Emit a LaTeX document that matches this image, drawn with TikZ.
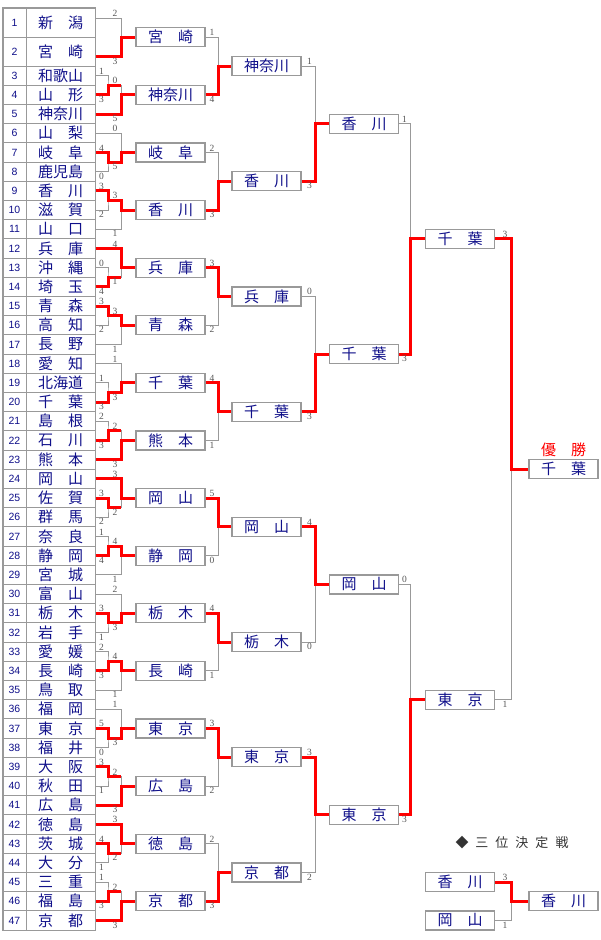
\documentclass[tikz,border=0pt]{standalone}
\usepackage{fontspec}
\setmainfont{Liberation Serif}
\newfontfamily\jpfont{Noto Sans CJK JP}
\newfontfamily\numfont{Liberation Sans}
\usepackage{tikz}
\usetikzlibrary{calc,positioning}
\definecolor{navy}{HTML}{10108A}
\definecolor{linegray}{HTML}{999999}
\definecolor{winred}{HTML}{FF0000}
\definecolor{scoregray}{HTML}{555555}
\definecolor{titlegray}{HTML}{333333}
\tikzset{
  cell/.style={draw=linegray, line width=1pt, fill=white, minimum height=19.2pt, inner sep=0pt, text=navy},
  numcell/.style={cell, minimum width=23pt, font=\numfont\fontsize{10.5}{10.5}\selectfont},
  namecell/.style={cell, minimum width=69pt, font=\jpfont\fontsize{15}{15}\selectfont},
  teambox/.style={draw=linegray, line width=1.2pt, fill=white, minimum width=69pt, minimum height=19pt,
    inner sep=0pt, text=navy, font=\jpfont\fontsize{15}{15}\selectfont},
  wire/.style={draw=linegray, line width=1pt},
  win/.style={draw=winred, line width=3pt},
  score/.style={font=\fontsize{9.5}{9.5}\selectfont, text=scoregray, inner sep=1.2pt},
  champlabel/.style={text=winred, inner sep=1pt, font=\jpfont\fontsize{15}{15}\selectfont},
  titlelabel/.style={text=titlegray, inner sep=0pt, font=\jpfont\fontsize{13}{13}\selectfont},
  declare function={sy(\j)=18+19.2*\j;},
}

\begin{document}
\begin{tikzpicture}[x=1pt, y=-1pt]
  \useasboundingbox (0,0) rectangle (600,940);

  % boxes of the later rounds
  \foreach \g/\pref in {0/宮　崎, 1/神奈川, 2/岐　阜, 3/香　川, 4/兵　庫, 5/青　森, 6/千　葉, 7/熊　本,
                        8/岡　山, 9/静　岡, 10/栃　木, 11/長　崎, 12/東　京, 13/広　島, 14/徳　島, 15/京　都}
    \node[teambox] (b\g) at (170.5,{sy(3*\g+1)}) {\pref};
  \foreach \g/\pref in {0/神奈川, 1/香　川, 2/兵　庫, 3/千　葉, 4/岡　山, 5/栃　木, 6/東　京, 7/京　都}
    \node[teambox] (c\g) at (266.5,{sy(6*\g+2.5)}) {\pref};
  \foreach \g/\pref in {0/香　川, 1/千　葉, 2/岡　山, 3/東　京}
    \node[teambox] (d\g) at (364,{sy(12*\g+5.5)}) {\pref};
  \node[teambox] (e0) at (460,{sy(11.5)}) {千　葉};
  \node[teambox] (e1) at (460,{sy(35.5)}) {東　京};
  \node[teambox] (f) at (563.5,{sy(23.5)}) {千　葉};
  \node[champlabel, above=1pt of f] (champ) {優　勝};

  % third place
  \node[titlelabel] (third) at (512,843) {◆\hspace{7pt}三\hspace{7pt}位\hspace{7pt}決\hspace{7pt}定\hspace{7pt}戦};
  \node[teambox] (h1) at (460,{sy(45)}) {香　川};
  \node[teambox] (h2) at (460,{sy(47)}) {岡　山};
  \node[teambox] (h3) at (563.5,{sy(46)}) {香　川};

  % entry table
  \node[numcell, minimum height=28.8pt] (n1) at (14.5,{sy(0.25)}) {1};
  \node[namecell, minimum height=28.8pt] (t1) at (60.5,{sy(0.25)}) {新　潟};
  \node[numcell, minimum height=28.8pt] (n2) at (14.5,{sy(1.75)}) {2};
  \node[namecell, minimum height=28.8pt] (t2) at (60.5,{sy(1.75)}) {宮　崎};
  \foreach \k/\pref in {3/和歌山, 4/山　形, 5/神奈川, 6/山　梨, 7/岐　阜, 8/鹿児島, 9/香　川, 10/滋　賀,
      11/山　口, 12/兵　庫, 13/沖　縄, 14/埼　玉, 15/青　森, 16/高　知, 17/長　野, 18/愛　知, 19/北海道,
      20/千　葉, 21/島　根, 22/石　川, 23/熊　本, 24/岡　山, 25/佐　賀, 26/群　馬, 27/奈　良, 28/静　岡,
      29/宮　城, 30/富　山, 31/栃　木, 32/岩　手, 33/愛　媛, 34/長　崎, 35/鳥　取, 36/福　岡, 37/東　京,
      38/福　井, 39/大　阪, 40/秋　田, 41/広　島, 42/徳　島, 43/茨　城, 44/大　分, 45/三　重, 46/福　島,
      47/京　都} {
    \node[numcell] (n\k) at (14.5,{sy(\k)}) {\k};
    \node[namecell] (t\k) at (60.5,{sy(\k)}) {\pref};
    \coordinate (p\k) at (t\k.east);
  }
  \draw[linegray, line width=1.2pt] (n1.north west) rectangle (t47.south east);
  \coordinate (p1) at ([yshift=4.8pt]t1.east);
  \coordinate (p2) at ([yshift=-4.8pt]t2.east);

  % first group: two teams only
  \coordinate (k0) at ([xshift=-14pt]b0.west);
  \draw[wire] (p1) -| (k0) |- (p2);
  \draw[wire] (k0) -- (b0.west);
  \draw[win] (p2) -| (k0) -- (b0.west);
  \node[score, anchor=south] (sp0) at ($(k0 |- p1)+(-6.5,0)$) {2};
  \node[score, anchor=north] (ss0) at ($(k0 |- p2)+(-6.5,0)$) {3};

  % groups of three: pair score, pair score, pair winner, pair line score, single score, group winner
  \foreach \g/\su/\sd/\rw/\sp/\ss/\fw in {1/1/3/1/0/5/1, 2/4/0/0/5/0/0, 3/3/2/0/3/1/0, 4/0/4/1/1/4/1,
      5/3/2/0/3/1/0, 6/1/3/1/3/1/0, 7/2/3/1/2/3/1, 8/3/2/0/2/3/1, 9/1/4/1/4/1/0, 10/3/1/0/3/2/0,
      11/2/3/1/4/1/0, 12/5/0/0/3/1/0, 13/3/1/0/2/3/1, 14/4/1/0/2/3/1, 15/1/3/1/2/3/1} {
    \pgfmathtruncatemacro\ptop{isodd(\g) ? 3*\g : 3*\g+1}
    \pgfmathtruncatemacro\pbot{\ptop+1}
    \pgfmathtruncatemacro\psol{isodd(\g) ? 3*\g+2 : 3*\g}
    \pgfmathtruncatemacro\pwin{\ptop+\rw}
    \ifodd\g \def\pairside{south}\def\soloside{north}\else \def\pairside{north}\def\soloside{south}\fi
    \coordinate (k\g) at ([xshift=-14pt]b\g.west);
    \coordinate (r\g) at (108,{sy(\ptop+0.5)});
    \draw[wire] (p\ptop) -| (r\g) |- (p\pbot);
    \draw[wire] (r\g) -- (r\g -| k\g) -- (k\g |- p\psol) -- (p\psol);
    \draw[wire] (k\g) -- (b\g.west);
    \ifnum\fw=0
      \draw[win] (p\pwin) -| (r\g) -- (r\g -| k\g) -- (k\g) -- (b\g.west);
    \else
      \draw[win] (p\pwin) -| (r\g) -- (r\g -| k\g);
      \draw[win] (p\psol) -| (k\g) -- (b\g.west);
    \fi
    \node[score, anchor=south] (su\g) at ($(r\g |- p\ptop)+(-6.5,0)$) {\su};
    \node[score, anchor=north] (sd\g) at ($(r\g |- p\pbot)+(-6.5,0)$) {\sd};
    \node[score, anchor=\pairside] (sp\g) at ($(r\g -| k\g)+(-6.5,0)$) {\sp};
    \node[score, anchor=\soloside] (ss\g) at ($(k\g |- p\psol)+(-6.5,0)$) {\ss};
  }

  % box against box
  \foreach \up/\dn/\nx/\wn/\su/\sd/\gap in {b0/b1/c0/b1/1/4/13, b2/b3/c1/b3/2/3/13, b4/b5/c2/b4/3/2/13,
      b6/b7/c3/b6/4/1/13, b8/b9/c4/b8/5/0/13, b10/b11/c5/b10/4/1/13, b12/b13/c6/b12/3/2/13,
      b14/b15/c7/b15/2/3/13, c0/c1/d0/c1/1/3/13, c2/c3/d1/c3/0/3/13, c4/c5/d2/c4/4/0/13,
      c6/c7/d3/c6/3/2/13, d0/d1/e0/d1/1/3/14, d2/d3/e1/d3/0/3/14, e0/e1/f/e0/3/1/17, h1/h2/h3/h1/3/1/17} {
    \coordinate (j\nx) at ([xshift=-\gap pt]\nx.west);
    \draw[wire] (\up.east) -| (j\nx) |- (\dn.east);
    \draw[wire] (j\nx) -- (\nx.west);
    \draw[win] (\wn.east) -| (j\nx) -- (\nx.west);
    \node[score, anchor=south] (s\up) at ($(\up.east -| j\nx)+(-6.5,0)$) {\su};
    \node[score, anchor=north] (s\dn) at ($(\dn.east -| j\nx)+(-6.5,0)$) {\sd};
  }
\end{tikzpicture}
\end{document}
